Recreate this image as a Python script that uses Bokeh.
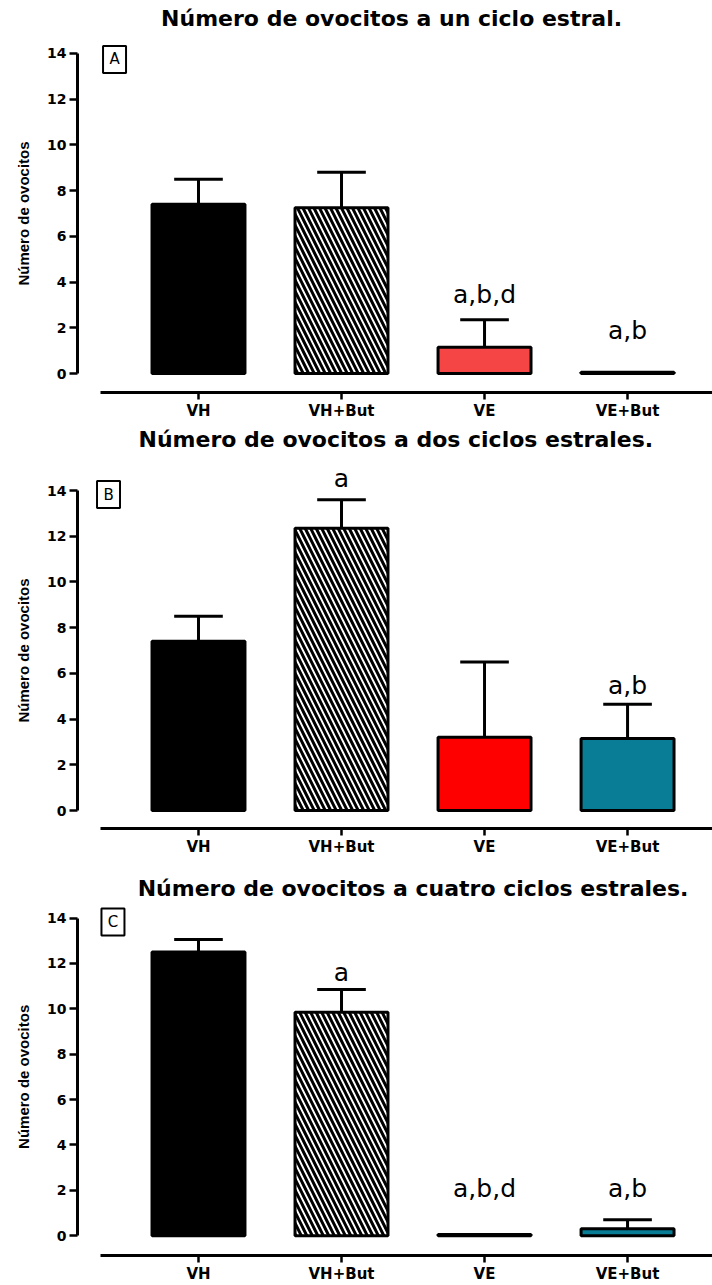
import math
from bokeh.plotting import figure
from bokeh.models import FixedTicker, Label
from bokeh.layouts import column, row
from bokeh.embed import file_html
from bokeh.resources import INLINE
from bokeh.core.properties import value

# ---------------- data ----------------
categories = ["VH", "VH+But", "VE", "VE+But"]
titles = ["Número de ovocitos a un ciclo estral.",
          "Número de ovocitos a dos ciclos estrales.",
          "Número de ovocitos a cuatro ciclos estrales."]
panel_tags = ["A", "B", "C"]
y_label = "Número de ovocitos"
y_ticks = [0, 2, 4, 6, 8, 10, 12, 14]

mean_a = [7.4, 7.25, 1.15, 0.05]
sem_a = [1.1, 1.55, 1.2, 0.0]
mean_b = [7.4, 12.35, 3.2, 3.15]
sem_b = [1.1, 1.25, 3.3, 1.5]
mean_c = [12.5, 9.85, 0.05, 0.3]
sem_c = [0.55, 1.0, 0.0, 0.4]

letters_a = ["", "", "a,b,d", "a,b"]
letters_b = ["", "a", "", "a,b"]
letters_c = ["", "a", "a,b,d", "a,b"]

# ---------------- styling / layout ----------------
letter_y_a = [0, 0, 3.46, 1.88]
letter_y_b = [0, 14.52, 0, 5.47]
letter_y_c = [0, 11.59, 2.10, 2.10]

fills_a = ["black", "white", "#F54545", "#0A7D96"]
fills_b = ["black", "white", "#FF0000", "#0A7D96"]
fills_c = ["black", "white", "#FF0000", "#0A7D96"]
hatches = [" ", "\\", " ", " "]

W = 712
LAB_W = 36          # width of the strip holding the rotated y title
LAB_X = 23          # centre of the y title (px from the left)
X_START, X_END = -0.846, 3.594
X_LINE_START = -0.685

panels = [
    dict(mean=mean_a, sem=sem_a, letters=letters_a, ly=letter_y_a, fills=fills_a,
         height=426, bottom=34, y0=-0.831, y1=16.317, title_x=1.35, title_y=15.53,
         tag_x=-0.587, tag_y=13.74),
    dict(mean=mean_b, sem=sem_b, letters=letters_b, ly=letter_y_b, fills=fills_b,
         height=440, bottom=38, y0=-0.787, y1=16.80, title_x=1.38, title_y=16.23,
         tag_x=-0.629, tag_y=13.82),
    dict(mean=mean_c, sem=sem_c, letters=letters_c, ly=letter_y_c, fills=fills_c,
         height=419, bottom=27, y0=-0.875, y1=16.27, title_x=1.50, title_y=15.31,
         tag_x=-0.598, tag_y=13.82),
]

BOLD_FONT = "DejaVu Sans"
rows = []
for i, cfg in enumerate(panels):
    # narrow strip with the rotated y-axis title, sharing the y mapping
    lab = figure(width=LAB_W, height=cfg["height"], x_range=(0, LAB_W),
                 y_range=(cfg["y0"], cfg["y1"]), output_backend="svg",
                 toolbar_location=None, x_axis_location=None, y_axis_location=None,
                 min_border_left=0, min_border_right=0, min_border_top=0,
                 min_border_bottom=cfg["bottom"])
    lab.xgrid.visible = False
    lab.ygrid.visible = False
    lab.outline_line_color = None
    lab.text(x=[LAB_X], y=[(y_ticks[0] + y_ticks[-1]) / 2], text=[y_label],
             angle=math.pi / 2, text_font=value("Liberation Sans"),
             text_font_style="bold", text_font_size="15px",
             text_align="center", text_baseline="middle", text_color="black")

    p = figure(width=W - LAB_W, height=cfg["height"], x_range=(X_START, X_END),
               y_range=(cfg["y0"], cfg["y1"]), output_backend="svg",
               toolbar_location=None, min_border_left=77 - LAB_W, min_border_right=0,
               min_border_top=0, min_border_bottom=cfg["bottom"])
    p.xgrid.visible = False
    p.ygrid.visible = False
    p.outline_line_color = None
    p.background_fill_color = "white"

    xs = list(range(len(categories)))
    p.vbar(x=xs, top=cfg["mean"], bottom=0, width=0.65,
           fill_color=cfg["fills"], line_color="black", line_width=3,
           hatch_pattern=hatches, hatch_color="black", hatch_weight=3,
           hatch_scale=11)

    ex, ey0, ey1 = [], [], []
    for x, m, s in zip(xs, cfg["mean"], cfg["sem"]):
        if s > 0:
            ex.append(x); ey0.append(m); ey1.append(m + s)
    p.segment(x0=ex, y0=ey0, x1=ex, y1=ey1, line_color="black", line_width=3)
    p.segment(x0=[x - 0.17 for x in ex], y0=ey1, x1=[x + 0.17 for x in ex], y1=ey1,
              line_color="black", line_width=3)

    lx, lyy, lt = [], [], []
    for x, t, yy in zip(xs, cfg["letters"], cfg["ly"]):
        if t:
            lx.append(x); lyy.append(yy); lt.append(t)
    p.text(x=lx, y=lyy, text=lt, text_font=value("DejaVu Sans"),
           text_font_size="25px", text_align="center", text_baseline="middle",
           text_color="black")

    # panel tag box
    p.rect(x=[cfg["tag_x"]], y=[cfg["tag_y"]], width=23, height=27,
           width_units="screen", height_units="screen", fill_color="white",
           line_color="black", line_width=2)
    p.text(x=[cfg["tag_x"]], y=[cfg["tag_y"]], text=[panel_tags[i]],
           text_font=value("DejaVu Sans"), text_font_size="15px",
           text_align="center", text_baseline="middle", text_color="black")

    p.add_layout(Label(x=cfg["title_x"], y=cfg["title_y"], text=titles[i],
                       text_align="center", text_baseline="middle",
                       text_font=BOLD_FONT, text_font_style="bold",
                       text_font_size="22px", text_color="black"))

    ya = p.yaxis[0]
    ya.bounds = (0, 14)
    ya.ticker = FixedTicker(ticks=y_ticks)
    ya.axis_line_width = 3
    ya.axis_line_color = "black"
    ya.major_tick_line_width = 2.5
    ya.major_tick_out = 8
    ya.major_tick_in = 0
    ya.minor_tick_out = 0
    ya.minor_tick_in = 0
    ya.major_label_standoff = 3
    ya.major_label_text_font = BOLD_FONT
    ya.major_label_text_font_style = "bold"
    ya.major_label_text_font_size = "14px"
    ya.major_label_text_color = "black"

    xa = p.xaxis[0]
    xa.bounds = (X_LINE_START, X_END)
    xa.ticker = FixedTicker(ticks=xs)
    xa.major_label_overrides = {x: c for x, c in zip(xs, categories)}
    xa.axis_line_width = 3
    xa.axis_line_color = "black"
    xa.major_tick_line_width = 2.5
    xa.major_tick_out = 7
    xa.major_tick_in = 0
    xa.minor_tick_out = 0
    xa.minor_tick_in = 0
    xa.major_label_standoff = 2
    xa.major_label_text_font = BOLD_FONT
    xa.major_label_text_font_style = "bold"
    xa.major_label_text_font_size = "15px"
    xa.major_label_text_color = "black"

    rows.append(row(lab, p, spacing=0))

layout = column(*rows, spacing=0)
open("out.html", "w").write(file_html(layout, INLINE))
